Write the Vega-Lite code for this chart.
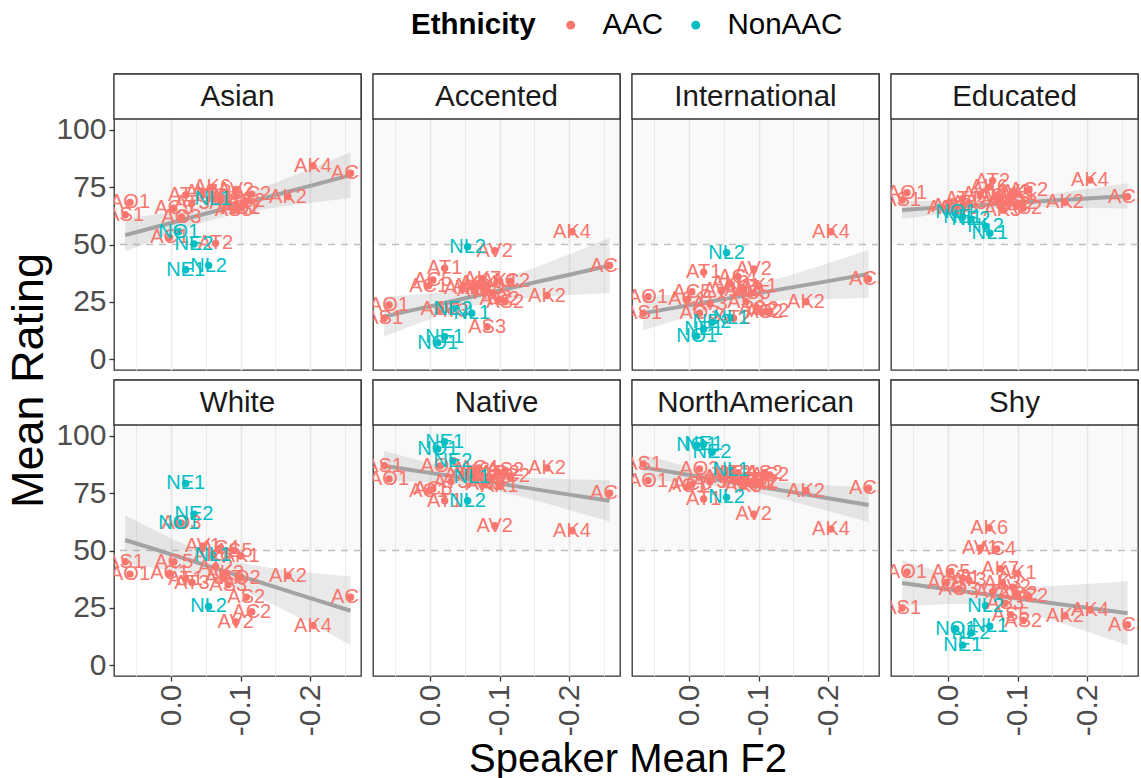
{
"$schema": "https://vega.github.io/schema/vega-lite/v6.json",
"padding": {"left": 6, "top": 10, "right": 1, "bottom": 2},
"background": "#FFFFFF",
"config": {
  "font": "Liberation Sans",
  "view": {"stroke": "#333333", "strokeWidth": 1.3},
  "axis": {"gridColor": "#EBEBEB", "labelFontSize": 30, "labelColor": "#4D4D4D", "labelFont": "Liberation Sans", "tickColor": "#333333", "titleFont": "Liberation Sans", "titleFontSize": 40, "titleFontWeight": "normal", "titleColor": "#000000"}
},
"datasets": {
  "spk": [
    {"s":"AS1","e":"AAC","x":0.066,"Asian":63,"Accented":17.8,"International":20,"Educated":69.4,"White":45.1,"Native":87,"NorthAmerican":87.8,"Shy":24.9},
    {"s":"AO1","e":"AAC","x":0.059,"Asian":68.4,"Accented":23.6,"International":27.2,"Educated":72.6,"White":39.7,"Native":81.2,"NorthAmerican":80.5,"Shy":40.5},
    {"s":"AC5","e":"AAC","x":-0.004,"Asian":65.8,"Accented":34.5,"International":29.4,"Educated":67,"White":45.1,"Native":76.9,"NorthAmerican":79,"Shy":40.8},
    {"s":"AC1","e":"AAC","x":0.002,"Asian":53.1,"Accented":32,"International":26,"Educated":66,"White":40,"Native":76,"NorthAmerican":78,"Shy":36},
    {"s":"AT1","e":"AAC","x":-0.021,"Asian":71.6,"Accented":39.6,"International":37.9,"Educated":70,"White":37.6,"Native":71.7,"NorthAmerican":72.5,"Shy":38},
    {"s":"AO3","e":"AAC","x":-0.015,"Asian":62,"Accented":22,"International":20,"Educated":66,"White":61.9,"Native":87,"NorthAmerican":85.6,"Shy":33.2},
    {"s":"AT3","e":"AAC","x":-0.03,"Asian":68,"Accented":21,"International":24,"Educated":68,"White":36,"Native":80,"NorthAmerican":80,"Shy":37},
    {"s":"AT2","e":"AAC","x":-0.064,"Asian":50.5,"Accented":30,"International":17.8,"Educated":77.9,"White":43,"Native":83,"NorthAmerican":84,"Shy":32},
    {"s":"AK6","e":"AAC","x":-0.059,"Asian":75,"Accented":32,"International":33,"Educated":75,"White":48,"Native":85,"NorthAmerican":83,"Shy":59.8},
    {"s":"AV1","e":"AAC","x":-0.046,"Asian":73,"Accented":31,"International":30,"Educated":72,"White":52,"Native":83,"NorthAmerican":82,"Shy":51},
    {"s":"AC4","e":"AAC","x":-0.07,"Asian":71,"Accented":33,"International":36,"Educated":71,"White":51,"Native":86,"NorthAmerican":84,"Shy":50.7},
    {"s":"AK7","e":"AAC","x":-0.075,"Asian":70,"Accented":35,"International":31,"Educated":70,"White":38,"Native":84,"NorthAmerican":81,"Shy":42},
    {"s":"AK1","e":"AAC","x":-0.1,"Asian":66,"Accented":34,"International":32,"Educated":72,"White":47.6,"Native":78,"NorthAmerican":79,"Shy":40},
    {"s":"AS5","e":"AAC","x":-0.09,"Asian":65,"Accented":29,"International":28.8,"Educated":70,"White":50,"Native":82,"NorthAmerican":80,"Shy":22},
    {"s":"AS3","e":"AAC","x":-0.082,"Asian":68,"Accented":14.1,"International":25,"Educated":68,"White":35,"Native":80,"NorthAmerican":81,"Shy":27},
    {"s":"AV2","e":"AAC","x":-0.093,"Asian":74,"Accented":47.3,"International":39.3,"Educated":73,"White":18.9,"Native":60.8,"NorthAmerican":65.9,"Shy":34},
    {"s":"AC2","e":"AAC","x":-0.116,"Asian":72,"Accented":34,"International":21,"Educated":73.8,"White":23.3,"Native":82.7,"NorthAmerican":83,"Shy":30},
    {"s":"AS2","e":"AAC","x":-0.108,"Asian":69,"Accented":25,"International":20.5,"Educated":65.8,"White":29.6,"Native":85,"NorthAmerican":84,"Shy":19.4},
    {"s":"AO2","e":"AAC","x":-0.1,"Asian":66,"Accented":26,"International":22,"Educated":68,"White":38,"Native":84,"NorthAmerican":80,"Shy":31},
    {"s":"AK3","e":"AAC","x":-0.078,"Asian":70,"Accented":31,"International":30,"Educated":65,"White":40,"Native":79,"NorthAmerican":78,"Shy":36},
    {"s":"AK2","e":"AAC","x":-0.168,"Asian":70.9,"Accented":27.7,"International":25,"Educated":68.4,"White":39,"Native":86,"NorthAmerican":76.1,"Shy":21.5},
    {"s":"AK4","e":"AAC","x":-0.204,"Asian":84.4,"Accented":55.6,"International":55.6,"Educated":78.2,"White":17.2,"Native":58.6,"NorthAmerican":59.4,"Shy":24},
    {"s":"AC3","e":"AAC","x":-0.258,"Asian":81.1,"Accented":40.8,"International":34.9,"Educated":70.9,"White":29.6,"Native":75,"NorthAmerican":77.2,"Shy":17.6},
    {"s":"NO1","e":"NonAAC","x":-0.011,"Asian":55.6,"Accented":7.1,"International":10,"Educated":64,"White":62,"Native":94.3,"NorthAmerican":96,"Shy":15.7},
    {"s":"NE1","e":"NonAAC","x":-0.021,"Asian":39,"Accented":9.7,"International":13.1,"Educated":62,"White":79.3,"Native":97.5,"NorthAmerican":96.5,"Shy":8.7},
    {"s":"NE2","e":"NonAAC","x":-0.033,"Asian":50.2,"Accented":22,"International":16,"Educated":61,"White":65.9,"Native":89.2,"NorthAmerican":92.9,"Shy":14},
    {"s":"NL2","e":"NonAAC","x":-0.054,"Asian":40.8,"Accented":49,"International":46.4,"Educated":58,"White":25.6,"Native":71.7,"NorthAmerican":73.2,"Shy":25.9},
    {"s":"NL1","e":"NonAAC","x":-0.06,"Asian":70,"Accented":20,"International":18,"Educated":54.9,"White":48,"Native":82,"NorthAmerican":85,"Shy":16.9}
  ],
  "fit": [
    {"x":0.066,"Asian_f":54.1,"Asian_lo":46.9,"Asian_hi":61.3,"Accented_f":18.5,"Accented_lo":9.8,"Accented_hi":27.2,"International_f":20,"International_lo":12.4,"International_hi":27.6,"Educated_f":65.1,"Educated_lo":61.1,"Educated_hi":69.1,"White_f":54.6,"White_lo":43.8,"White_hi":65.4,"Native_f":87,"Native_lo":80.5,"Native_hi":93.5,"NorthAmerican_f":86.3,"NorthAmerican_lo":80.8,"NorthAmerican_hi":91.8,"Shy_f":35.8,"Shy_lo":25.7,"Shy_hi":45.9},
    {"x":0.03,"Asian_f":57.0,"Asian_lo":51.2,"Asian_hi":62.8,"Accented_f":21.0,"Accented_lo":14.1,"Accented_hi":27.9,"International_f":21.9,"International_lo":15.9,"International_hi":27.9,"Educated_f":65.8,"Educated_lo":62.6,"Educated_hi":69.0,"White_f":51.2,"White_lo":42.6,"White_hi":59.8,"Native_f":85.3,"Native_lo":80.1,"Native_hi":90.5,"NorthAmerican_f":84.5,"NorthAmerican_lo":80.1,"NorthAmerican_hi":88.9,"Shy_f":34.3,"Shy_lo":26.2,"Shy_hi":42.4},
    {"x":0.0,"Asian_f":59.4,"Asian_lo":54.7,"Asian_hi":64.1,"Accented_f":23.0,"Accented_lo":17.4,"Accented_hi":28.6,"International_f":23.5,"International_lo":18.6,"International_hi":28.4,"Educated_f":66.3,"Educated_lo":63.7,"Educated_hi":68.9,"White_f":48.3,"White_lo":41.3,"White_hi":55.3,"Native_f":83.9,"Native_lo":79.7,"Native_hi":88.1,"NorthAmerican_f":83.0,"NorthAmerican_lo":79.5,"NorthAmerican_hi":86.5,"Shy_f":33.1,"Shy_lo":26.6,"Shy_hi":39.6},
    {"x":-0.03,"Asian_f":61.9,"Asian_lo":58.1,"Asian_hi":65.7,"Accented_f":25.1,"Accented_lo":20.5,"Accented_hi":29.7,"International_f":25.1,"International_lo":21.1,"International_hi":29.1,"Educated_f":66.9,"Educated_lo":64.8,"Educated_hi":69.0,"White_f":45.5,"White_lo":39.8,"White_hi":51.2,"Native_f":82.5,"Native_lo":79.1,"Native_hi":85.9,"NorthAmerican_f":81.4,"NorthAmerican_lo":78.5,"NorthAmerican_hi":84.3,"Shy_f":31.9,"Shy_lo":26.6,"Shy_hi":37.2},
    {"x":-0.065,"Asian_f":64.7,"Asian_lo":61.3,"Asian_hi":68.1,"Accented_f":27.5,"Accented_lo":23.4,"Accented_hi":31.6,"International_f":26.9,"International_lo":23.3,"International_hi":30.5,"Educated_f":67.6,"Educated_lo":65.7,"Educated_hi":69.5,"White_f":42.1,"White_lo":37.0,"White_hi":47.2,"Native_f":80.8,"Native_lo":77.7,"Native_hi":83.9,"NorthAmerican_f":79.7,"NorthAmerican_lo":77.1,"NorthAmerican_hi":82.3,"Shy_f":30.5,"Shy_lo":25.7,"Shy_hi":35.3},
    {"x":-0.1,"Asian_f":67.5,"Asian_lo":63.7,"Asian_hi":71.3,"Accented_f":29.9,"Accented_lo":25.3,"Accented_hi":34.5,"International_f":28.8,"International_lo":24.8,"International_hi":32.8,"Educated_f":68.2,"Educated_lo":66.1,"Educated_hi":70.3,"White_f":38.8,"White_lo":33.1,"White_hi":44.5,"Native_f":79.2,"Native_lo":75.8,"Native_hi":82.6,"NorthAmerican_f":77.9,"NorthAmerican_lo":75.0,"NorthAmerican_hi":80.8,"Shy_f":29.0,"Shy_lo":23.7,"Shy_hi":34.3},
    {"x":-0.15,"Asian_f":71.6,"Asian_lo":66.2,"Asian_hi":77.0,"Accented_f":33.4,"Accented_lo":27.0,"Accented_hi":39.8,"International_f":31.4,"International_lo":25.8,"International_hi":37.0,"Educated_f":69.2,"Educated_lo":66.3,"Educated_hi":72.1,"White_f":34.0,"White_lo":26.0,"White_hi":42.0,"Native_f":76.8,"Native_lo":72.0,"Native_hi":81.6,"NorthAmerican_f":75.4,"NorthAmerican_lo":71.3,"NorthAmerican_hi":79.5,"Shy_f":27.0,"Shy_lo":19.5,"Shy_hi":34.5},
    {"x":-0.2,"Asian_f":75.6,"Asian_lo":68.2,"Asian_hi":83.0,"Accented_f":36.8,"Accented_lo":27.9,"Accented_hi":45.7,"International_f":34.0,"International_lo":26.2,"International_hi":41.8,"Educated_f":70.1,"Educated_lo":66.0,"Educated_hi":74.2,"White_f":29.2,"White_lo":18.1,"White_hi":40.3,"Native_f":74.4,"Native_lo":67.7,"Native_hi":81.1,"NorthAmerican_f":72.8,"NorthAmerican_lo":67.2,"NorthAmerican_hi":78.4,"Shy_f":25.0,"Shy_lo":14.6,"Shy_hi":35.4},
    {"x":-0.258,"Asian_f":80.3,"Asian_lo":70.3,"Asian_hi":90.3,"Accented_f":40.8,"Accented_lo":28.8,"Accented_hi":52.8,"International_f":37.1,"International_lo":26.6,"International_hi":47.6,"Educated_f":71.2,"Educated_lo":65.7,"Educated_hi":76.7,"White_f":23.7,"White_lo":8.7,"White_hi":38.7,"Native_f":71.7,"Native_lo":62.7,"Native_hi":80.7,"NorthAmerican_f":69.9,"NorthAmerican_lo":62.3,"NorthAmerican_hi":77.5,"Shy_f":22.6,"Shy_lo":8.6,"Shy_hi":36.6}
  ]
},
"bounds": "flush",
"columns": 4,
"spacing": {"row": 10, "column": 12},
"concat": [
  {"width": 247, "height": 296, "layer": [
    {"data": {"values": [{}]}, "mark": {"type": "rect", "color": "#000000", "opacity": 0.025}, "encoding": {"y": {"datum": 50, "type": "quantitative", "scale": {"domain": [-4.8, 124.45], "nice": false, "zero": false}, "axis": {"title": "Mean Rating", "titleY": 306, "titleFontSize": 45, "values": [0,12.5,25,37.5,50,62.5,75,87.5,100], "labelExpr": "datum.value % 25 === 0 ? datum.label : ''", "domain": false, "tickSize": 5, "tickWidth": 1.3, "labelPadding": 3, "tickOpacity": {"condition": {"test": "datum.value % 25 !== 0", "value": 0}, "value": 1}, "gridWidth": {"condition": {"test": "datum.value % 25 !== 0", "value": 0.8}, "value": 1.6}}}, "y2": {"datum": 104.8}}},
    {"data": {"values": [{}]}, "mark": {"type": "rule", "color": "#BFBFBF", "strokeDash": [7, 6], "strokeWidth": 1.6}, "encoding": {"y": {"datum": 50, "type": "quantitative"}}},
    {"data": {"name": "fit"}, "mark": {"type": "area", "color": "#999999", "opacity": 0.22}, "encoding": {"x": {"field": "x", "type": "quantitative", "scale": {"domain": [-0.273, 0.082], "reverse": true, "nice": false, "zero": false}, "axis": {"title": null, "values": [-0.25,-0.2,-0.15,-0.1,-0.05,0,0.05], "labels": false, "ticks": false, "domain": false, "gridWidth": {"condition": {"test": "abs(round(datum.value*100)) % 10 !== 0", "value": 0.8}, "value": 1.6}}}, "y": {"field": "Asian_lo", "type": "quantitative"}, "y2": {"field": "Asian_hi"}}},
    {"data": {"name": "fit"}, "mark": {"type": "line", "color": "#A3A3A3", "strokeWidth": 4}, "encoding": {"x": {"field": "x", "type": "quantitative"}, "y": {"field": "Asian_f", "type": "quantitative"}}},
    {"data": {"name": "spk"}, "mark": {"type": "circle", "size": 55, "opacity": 1}, "encoding": {"x": {"field": "x", "type": "quantitative"}, "y": {"field": "Asian", "type": "quantitative"}, "color": {"field": "e", "type": "nominal", "scale": {"domain": ["AAC", "NonAAC"], "range": ["#F8766D", "#00BFC4"]}, "legend": {"title": "Ethnicity", "orient": "none", "legendX": 297, "legendY": -64, "direction": "horizontal", "titleOrient": "left", "titleFontSize": 29.5, "titleFontWeight": "bold", "titleColor": "#000000", "titleBaseline": "middle", "labelFontSize": 29.5, "labelColor": "#000000", "symbolType": "circle", "symbolSize": 80, "symbolStrokeWidth": 0, "labelOffset": 17, "columnPadding": 17, "titlePadding": 20}}}},
    {"data": {"name": "spk"}, "mark": {"type": "text", "fontSize": 20, "clip": true}, "encoding": {"x": {"field": "x", "type": "quantitative"}, "y": {"field": "Asian", "type": "quantitative"}, "text": {"field": "s"}, "color": {"field": "e", "type": "nominal"}}},
    {"data": {"values": [{}]}, "mark": {"type": "rect", "fill": "#FFFFFF", "stroke": "#333333", "strokeWidth": 1.3}, "encoding": {"y": {"datum": 104.8, "type": "quantitative"}, "y2": {"datum": 124.45}}},
    {"data": {"values": [{"t": "Asian"}]}, "mark": {"type": "text", "fontSize": 29.5, "color": "#1A1A1A", "baseline": "middle"}, "encoding": {"y": {"datum": 114.6, "type": "quantitative"}, "text": {"field": "t"}}}
  ]},
  {"width": 247, "height": 296, "layer": [
    {"data": {"values": [{}]}, "mark": {"type": "rect", "color": "#000000", "opacity": 0.025}, "encoding": {"y": {"datum": 50, "type": "quantitative", "scale": {"domain": [-4.8, 124.45], "nice": false, "zero": false}, "axis": {"title": null, "values": [0,12.5,25,37.5,50,62.5,75,87.5,100], "labels": false, "ticks": false, "domain": false, "gridWidth": {"condition": {"test": "datum.value % 25 !== 0", "value": 0.8}, "value": 1.6}}}, "y2": {"datum": 104.8}}},
    {"data": {"values": [{}]}, "mark": {"type": "rule", "color": "#BFBFBF", "strokeDash": [7, 6], "strokeWidth": 1.6}, "encoding": {"y": {"datum": 50, "type": "quantitative"}}},
    {"data": {"name": "fit"}, "mark": {"type": "area", "color": "#999999", "opacity": 0.22}, "encoding": {"x": {"field": "x", "type": "quantitative", "scale": {"domain": [-0.273, 0.082], "reverse": true, "nice": false, "zero": false}, "axis": {"title": null, "values": [-0.25,-0.2,-0.15,-0.1,-0.05,0,0.05], "labels": false, "ticks": false, "domain": false, "gridWidth": {"condition": {"test": "abs(round(datum.value*100)) % 10 !== 0", "value": 0.8}, "value": 1.6}}}, "y": {"field": "Accented_lo", "type": "quantitative"}, "y2": {"field": "Accented_hi"}}},
    {"data": {"name": "fit"}, "mark": {"type": "line", "color": "#A3A3A3", "strokeWidth": 4}, "encoding": {"x": {"field": "x", "type": "quantitative"}, "y": {"field": "Accented_f", "type": "quantitative"}}},
    {"data": {"name": "spk"}, "mark": {"type": "circle", "size": 55, "opacity": 1}, "encoding": {"x": {"field": "x", "type": "quantitative"}, "y": {"field": "Accented", "type": "quantitative"}, "color": {"field": "e", "type": "nominal"}}},
    {"data": {"name": "spk"}, "mark": {"type": "text", "fontSize": 20, "clip": true}, "encoding": {"x": {"field": "x", "type": "quantitative"}, "y": {"field": "Accented", "type": "quantitative"}, "text": {"field": "s"}, "color": {"field": "e", "type": "nominal"}}},
    {"data": {"values": [{}]}, "mark": {"type": "rect", "fill": "#FFFFFF", "stroke": "#333333", "strokeWidth": 1.3}, "encoding": {"y": {"datum": 104.8, "type": "quantitative"}, "y2": {"datum": 124.45}}},
    {"data": {"values": [{"t": "Accented"}]}, "mark": {"type": "text", "fontSize": 29.5, "color": "#1A1A1A", "baseline": "middle"}, "encoding": {"y": {"datum": 114.6, "type": "quantitative"}, "text": {"field": "t"}}}
  ]},
  {"width": 247, "height": 296, "layer": [
    {"data": {"values": [{}]}, "mark": {"type": "rect", "color": "#000000", "opacity": 0.025}, "encoding": {"y": {"datum": 50, "type": "quantitative", "scale": {"domain": [-4.8, 124.45], "nice": false, "zero": false}, "axis": {"title": null, "values": [0,12.5,25,37.5,50,62.5,75,87.5,100], "labels": false, "ticks": false, "domain": false, "gridWidth": {"condition": {"test": "datum.value % 25 !== 0", "value": 0.8}, "value": 1.6}}}, "y2": {"datum": 104.8}}},
    {"data": {"values": [{}]}, "mark": {"type": "rule", "color": "#BFBFBF", "strokeDash": [7, 6], "strokeWidth": 1.6}, "encoding": {"y": {"datum": 50, "type": "quantitative"}}},
    {"data": {"name": "fit"}, "mark": {"type": "area", "color": "#999999", "opacity": 0.22}, "encoding": {"x": {"field": "x", "type": "quantitative", "scale": {"domain": [-0.273, 0.082], "reverse": true, "nice": false, "zero": false}, "axis": {"title": null, "values": [-0.25,-0.2,-0.15,-0.1,-0.05,0,0.05], "labels": false, "ticks": false, "domain": false, "gridWidth": {"condition": {"test": "abs(round(datum.value*100)) % 10 !== 0", "value": 0.8}, "value": 1.6}}}, "y": {"field": "International_lo", "type": "quantitative"}, "y2": {"field": "International_hi"}}},
    {"data": {"name": "fit"}, "mark": {"type": "line", "color": "#A3A3A3", "strokeWidth": 4}, "encoding": {"x": {"field": "x", "type": "quantitative"}, "y": {"field": "International_f", "type": "quantitative"}}},
    {"data": {"name": "spk"}, "mark": {"type": "circle", "size": 55, "opacity": 1}, "encoding": {"x": {"field": "x", "type": "quantitative"}, "y": {"field": "International", "type": "quantitative"}, "color": {"field": "e", "type": "nominal"}}},
    {"data": {"name": "spk"}, "mark": {"type": "text", "fontSize": 20, "clip": true}, "encoding": {"x": {"field": "x", "type": "quantitative"}, "y": {"field": "International", "type": "quantitative"}, "text": {"field": "s"}, "color": {"field": "e", "type": "nominal"}}},
    {"data": {"values": [{}]}, "mark": {"type": "rect", "fill": "#FFFFFF", "stroke": "#333333", "strokeWidth": 1.3}, "encoding": {"y": {"datum": 104.8, "type": "quantitative"}, "y2": {"datum": 124.45}}},
    {"data": {"values": [{"t": "International"}]}, "mark": {"type": "text", "fontSize": 29.5, "color": "#1A1A1A", "baseline": "middle"}, "encoding": {"y": {"datum": 114.6, "type": "quantitative"}, "text": {"field": "t"}}}
  ]},
  {"width": 247, "height": 296, "layer": [
    {"data": {"values": [{}]}, "mark": {"type": "rect", "color": "#000000", "opacity": 0.025}, "encoding": {"y": {"datum": 50, "type": "quantitative", "scale": {"domain": [-4.8, 124.45], "nice": false, "zero": false}, "axis": {"title": null, "values": [0,12.5,25,37.5,50,62.5,75,87.5,100], "labels": false, "ticks": false, "domain": false, "gridWidth": {"condition": {"test": "datum.value % 25 !== 0", "value": 0.8}, "value": 1.6}}}, "y2": {"datum": 104.8}}},
    {"data": {"values": [{}]}, "mark": {"type": "rule", "color": "#BFBFBF", "strokeDash": [7, 6], "strokeWidth": 1.6}, "encoding": {"y": {"datum": 50, "type": "quantitative"}}},
    {"data": {"name": "fit"}, "mark": {"type": "area", "color": "#999999", "opacity": 0.22}, "encoding": {"x": {"field": "x", "type": "quantitative", "scale": {"domain": [-0.273, 0.082], "reverse": true, "nice": false, "zero": false}, "axis": {"title": null, "values": [-0.25,-0.2,-0.15,-0.1,-0.05,0,0.05], "labels": false, "ticks": false, "domain": false, "gridWidth": {"condition": {"test": "abs(round(datum.value*100)) % 10 !== 0", "value": 0.8}, "value": 1.6}}}, "y": {"field": "Educated_lo", "type": "quantitative"}, "y2": {"field": "Educated_hi"}}},
    {"data": {"name": "fit"}, "mark": {"type": "line", "color": "#A3A3A3", "strokeWidth": 4}, "encoding": {"x": {"field": "x", "type": "quantitative"}, "y": {"field": "Educated_f", "type": "quantitative"}}},
    {"data": {"name": "spk"}, "mark": {"type": "circle", "size": 55, "opacity": 1}, "encoding": {"x": {"field": "x", "type": "quantitative"}, "y": {"field": "Educated", "type": "quantitative"}, "color": {"field": "e", "type": "nominal"}}},
    {"data": {"name": "spk"}, "mark": {"type": "text", "fontSize": 20, "clip": true}, "encoding": {"x": {"field": "x", "type": "quantitative"}, "y": {"field": "Educated", "type": "quantitative"}, "text": {"field": "s"}, "color": {"field": "e", "type": "nominal"}}},
    {"data": {"values": [{}]}, "mark": {"type": "rect", "fill": "#FFFFFF", "stroke": "#333333", "strokeWidth": 1.3}, "encoding": {"y": {"datum": 104.8, "type": "quantitative"}, "y2": {"datum": 124.45}}},
    {"data": {"values": [{"t": "Educated"}]}, "mark": {"type": "text", "fontSize": 29.5, "color": "#1A1A1A", "baseline": "middle"}, "encoding": {"y": {"datum": 114.6, "type": "quantitative"}, "text": {"field": "t"}}}
  ]},
  {"width": 247, "height": 296, "layer": [
    {"data": {"values": [{}]}, "mark": {"type": "rect", "color": "#000000", "opacity": 0.025}, "encoding": {"y": {"datum": 50, "type": "quantitative", "scale": {"domain": [-4.8, 124.45], "nice": false, "zero": false}, "axis": {"title": null, "values": [0,12.5,25,37.5,50,62.5,75,87.5,100], "labelExpr": "datum.value % 25 === 0 ? datum.label : ''", "domain": false, "tickSize": 5, "tickWidth": 1.3, "labelPadding": 3, "tickOpacity": {"condition": {"test": "datum.value % 25 !== 0", "value": 0}, "value": 1}, "gridWidth": {"condition": {"test": "datum.value % 25 !== 0", "value": 0.8}, "value": 1.6}}}, "y2": {"datum": 104.8}}},
    {"data": {"values": [{}]}, "mark": {"type": "rule", "color": "#BFBFBF", "strokeDash": [7, 6], "strokeWidth": 1.6}, "encoding": {"y": {"datum": 50, "type": "quantitative"}}},
    {"data": {"name": "fit"}, "mark": {"type": "area", "color": "#999999", "opacity": 0.22}, "encoding": {"x": {"field": "x", "type": "quantitative", "scale": {"domain": [-0.273, 0.082], "reverse": true, "nice": false, "zero": false}, "axis": {"title": null, "values": [-0.25,-0.2,-0.15,-0.1,-0.05,0,0.05], "labelExpr": "abs(round(datum.value*100)) % 10 !== 0 ? '' : (datum.value < -0.15 ? '-0.2' : (datum.value < -0.05 ? '-0.1' : '0.0'))", "labelAngle": 270, "labelPadding": 3, "tickSize": 5, "tickWidth": 1.3, "domain": false, "tickOpacity": {"condition": {"test": "abs(round(datum.value*100)) % 10 !== 0", "value": 0}, "value": 1}, "gridWidth": {"condition": {"test": "abs(round(datum.value*100)) % 10 !== 0", "value": 0.8}, "value": 1.6}}}, "y": {"field": "White_lo", "type": "quantitative"}, "y2": {"field": "White_hi"}}},
    {"data": {"name": "fit"}, "mark": {"type": "line", "color": "#A3A3A3", "strokeWidth": 4}, "encoding": {"x": {"field": "x", "type": "quantitative"}, "y": {"field": "White_f", "type": "quantitative"}}},
    {"data": {"name": "spk"}, "mark": {"type": "circle", "size": 55, "opacity": 1}, "encoding": {"x": {"field": "x", "type": "quantitative"}, "y": {"field": "White", "type": "quantitative"}, "color": {"field": "e", "type": "nominal"}}},
    {"data": {"name": "spk"}, "mark": {"type": "text", "fontSize": 20, "clip": true}, "encoding": {"x": {"field": "x", "type": "quantitative"}, "y": {"field": "White", "type": "quantitative"}, "text": {"field": "s"}, "color": {"field": "e", "type": "nominal"}}},
    {"data": {"values": [{}]}, "mark": {"type": "rect", "fill": "#FFFFFF", "stroke": "#333333", "strokeWidth": 1.3}, "encoding": {"y": {"datum": 104.8, "type": "quantitative"}, "y2": {"datum": 124.45}}},
    {"data": {"values": [{"t": "White"}]}, "mark": {"type": "text", "fontSize": 29.5, "color": "#1A1A1A", "baseline": "middle"}, "encoding": {"y": {"datum": 114.6, "type": "quantitative"}, "text": {"field": "t"}}}
  ]},
  {"width": 247, "height": 296, "layer": [
    {"data": {"values": [{}]}, "mark": {"type": "rect", "color": "#000000", "opacity": 0.025}, "encoding": {"y": {"datum": 50, "type": "quantitative", "scale": {"domain": [-4.8, 124.45], "nice": false, "zero": false}, "axis": {"title": null, "values": [0,12.5,25,37.5,50,62.5,75,87.5,100], "labels": false, "ticks": false, "domain": false, "gridWidth": {"condition": {"test": "datum.value % 25 !== 0", "value": 0.8}, "value": 1.6}}}, "y2": {"datum": 104.8}}},
    {"data": {"values": [{}]}, "mark": {"type": "rule", "color": "#BFBFBF", "strokeDash": [7, 6], "strokeWidth": 1.6}, "encoding": {"y": {"datum": 50, "type": "quantitative"}}},
    {"data": {"name": "fit"}, "mark": {"type": "area", "color": "#999999", "opacity": 0.22}, "encoding": {"x": {"field": "x", "type": "quantitative", "scale": {"domain": [-0.273, 0.082], "reverse": true, "nice": false, "zero": false}, "axis": {"title": "Speaker Mean F2", "titleX": 254.5, "values": [-0.25,-0.2,-0.15,-0.1,-0.05,0,0.05], "labelExpr": "abs(round(datum.value*100)) % 10 !== 0 ? '' : (datum.value < -0.15 ? '-0.2' : (datum.value < -0.05 ? '-0.1' : '0.0'))", "labelAngle": 270, "labelPadding": 3, "tickSize": 5, "tickWidth": 1.3, "domain": false, "tickOpacity": {"condition": {"test": "abs(round(datum.value*100)) % 10 !== 0", "value": 0}, "value": 1}, "gridWidth": {"condition": {"test": "abs(round(datum.value*100)) % 10 !== 0", "value": 0.8}, "value": 1.6}}}, "y": {"field": "Native_lo", "type": "quantitative"}, "y2": {"field": "Native_hi"}}},
    {"data": {"name": "fit"}, "mark": {"type": "line", "color": "#A3A3A3", "strokeWidth": 4}, "encoding": {"x": {"field": "x", "type": "quantitative"}, "y": {"field": "Native_f", "type": "quantitative"}}},
    {"data": {"name": "spk"}, "mark": {"type": "circle", "size": 55, "opacity": 1}, "encoding": {"x": {"field": "x", "type": "quantitative"}, "y": {"field": "Native", "type": "quantitative"}, "color": {"field": "e", "type": "nominal"}}},
    {"data": {"name": "spk"}, "mark": {"type": "text", "fontSize": 20, "clip": true}, "encoding": {"x": {"field": "x", "type": "quantitative"}, "y": {"field": "Native", "type": "quantitative"}, "text": {"field": "s"}, "color": {"field": "e", "type": "nominal"}}},
    {"data": {"values": [{}]}, "mark": {"type": "rect", "fill": "#FFFFFF", "stroke": "#333333", "strokeWidth": 1.3}, "encoding": {"y": {"datum": 104.8, "type": "quantitative"}, "y2": {"datum": 124.45}}},
    {"data": {"values": [{"t": "Native"}]}, "mark": {"type": "text", "fontSize": 29.5, "color": "#1A1A1A", "baseline": "middle"}, "encoding": {"y": {"datum": 114.6, "type": "quantitative"}, "text": {"field": "t"}}}
  ]},
  {"width": 247, "height": 296, "layer": [
    {"data": {"values": [{}]}, "mark": {"type": "rect", "color": "#000000", "opacity": 0.025}, "encoding": {"y": {"datum": 50, "type": "quantitative", "scale": {"domain": [-4.8, 124.45], "nice": false, "zero": false}, "axis": {"title": null, "values": [0,12.5,25,37.5,50,62.5,75,87.5,100], "labels": false, "ticks": false, "domain": false, "gridWidth": {"condition": {"test": "datum.value % 25 !== 0", "value": 0.8}, "value": 1.6}}}, "y2": {"datum": 104.8}}},
    {"data": {"values": [{}]}, "mark": {"type": "rule", "color": "#BFBFBF", "strokeDash": [7, 6], "strokeWidth": 1.6}, "encoding": {"y": {"datum": 50, "type": "quantitative"}}},
    {"data": {"name": "fit"}, "mark": {"type": "area", "color": "#999999", "opacity": 0.22}, "encoding": {"x": {"field": "x", "type": "quantitative", "scale": {"domain": [-0.273, 0.082], "reverse": true, "nice": false, "zero": false}, "axis": {"title": null, "values": [-0.25,-0.2,-0.15,-0.1,-0.05,0,0.05], "labelExpr": "abs(round(datum.value*100)) % 10 !== 0 ? '' : (datum.value < -0.15 ? '-0.2' : (datum.value < -0.05 ? '-0.1' : '0.0'))", "labelAngle": 270, "labelPadding": 3, "tickSize": 5, "tickWidth": 1.3, "domain": false, "tickOpacity": {"condition": {"test": "abs(round(datum.value*100)) % 10 !== 0", "value": 0}, "value": 1}, "gridWidth": {"condition": {"test": "abs(round(datum.value*100)) % 10 !== 0", "value": 0.8}, "value": 1.6}}}, "y": {"field": "NorthAmerican_lo", "type": "quantitative"}, "y2": {"field": "NorthAmerican_hi"}}},
    {"data": {"name": "fit"}, "mark": {"type": "line", "color": "#A3A3A3", "strokeWidth": 4}, "encoding": {"x": {"field": "x", "type": "quantitative"}, "y": {"field": "NorthAmerican_f", "type": "quantitative"}}},
    {"data": {"name": "spk"}, "mark": {"type": "circle", "size": 55, "opacity": 1}, "encoding": {"x": {"field": "x", "type": "quantitative"}, "y": {"field": "NorthAmerican", "type": "quantitative"}, "color": {"field": "e", "type": "nominal"}}},
    {"data": {"name": "spk"}, "mark": {"type": "text", "fontSize": 20, "clip": true}, "encoding": {"x": {"field": "x", "type": "quantitative"}, "y": {"field": "NorthAmerican", "type": "quantitative"}, "text": {"field": "s"}, "color": {"field": "e", "type": "nominal"}}},
    {"data": {"values": [{}]}, "mark": {"type": "rect", "fill": "#FFFFFF", "stroke": "#333333", "strokeWidth": 1.3}, "encoding": {"y": {"datum": 104.8, "type": "quantitative"}, "y2": {"datum": 124.45}}},
    {"data": {"values": [{"t": "NorthAmerican"}]}, "mark": {"type": "text", "fontSize": 29.5, "color": "#1A1A1A", "baseline": "middle"}, "encoding": {"y": {"datum": 114.6, "type": "quantitative"}, "text": {"field": "t"}}}
  ]},
  {"width": 247, "height": 296, "layer": [
    {"data": {"values": [{}]}, "mark": {"type": "rect", "color": "#000000", "opacity": 0.025}, "encoding": {"y": {"datum": 50, "type": "quantitative", "scale": {"domain": [-4.8, 124.45], "nice": false, "zero": false}, "axis": {"title": null, "values": [0,12.5,25,37.5,50,62.5,75,87.5,100], "labels": false, "ticks": false, "domain": false, "gridWidth": {"condition": {"test": "datum.value % 25 !== 0", "value": 0.8}, "value": 1.6}}}, "y2": {"datum": 104.8}}},
    {"data": {"values": [{}]}, "mark": {"type": "rule", "color": "#BFBFBF", "strokeDash": [7, 6], "strokeWidth": 1.6}, "encoding": {"y": {"datum": 50, "type": "quantitative"}}},
    {"data": {"name": "fit"}, "mark": {"type": "area", "color": "#999999", "opacity": 0.22}, "encoding": {"x": {"field": "x", "type": "quantitative", "scale": {"domain": [-0.273, 0.082], "reverse": true, "nice": false, "zero": false}, "axis": {"title": null, "values": [-0.25,-0.2,-0.15,-0.1,-0.05,0,0.05], "labelExpr": "abs(round(datum.value*100)) % 10 !== 0 ? '' : (datum.value < -0.15 ? '-0.2' : (datum.value < -0.05 ? '-0.1' : '0.0'))", "labelAngle": 270, "labelPadding": 3, "tickSize": 5, "tickWidth": 1.3, "domain": false, "tickOpacity": {"condition": {"test": "abs(round(datum.value*100)) % 10 !== 0", "value": 0}, "value": 1}, "gridWidth": {"condition": {"test": "abs(round(datum.value*100)) % 10 !== 0", "value": 0.8}, "value": 1.6}}}, "y": {"field": "Shy_lo", "type": "quantitative"}, "y2": {"field": "Shy_hi"}}},
    {"data": {"name": "fit"}, "mark": {"type": "line", "color": "#A3A3A3", "strokeWidth": 4}, "encoding": {"x": {"field": "x", "type": "quantitative"}, "y": {"field": "Shy_f", "type": "quantitative"}}},
    {"data": {"name": "spk"}, "mark": {"type": "circle", "size": 55, "opacity": 1}, "encoding": {"x": {"field": "x", "type": "quantitative"}, "y": {"field": "Shy", "type": "quantitative"}, "color": {"field": "e", "type": "nominal"}}},
    {"data": {"name": "spk"}, "mark": {"type": "text", "fontSize": 20, "clip": true}, "encoding": {"x": {"field": "x", "type": "quantitative"}, "y": {"field": "Shy", "type": "quantitative"}, "text": {"field": "s"}, "color": {"field": "e", "type": "nominal"}}},
    {"data": {"values": [{}]}, "mark": {"type": "rect", "fill": "#FFFFFF", "stroke": "#333333", "strokeWidth": 1.3}, "encoding": {"y": {"datum": 104.8, "type": "quantitative"}, "y2": {"datum": 124.45}}},
    {"data": {"values": [{"t": "Shy"}]}, "mark": {"type": "text", "fontSize": 29.5, "color": "#1A1A1A", "baseline": "middle"}, "encoding": {"y": {"datum": 114.6, "type": "quantitative"}, "text": {"field": "t"}}}
  ]}
]
}
